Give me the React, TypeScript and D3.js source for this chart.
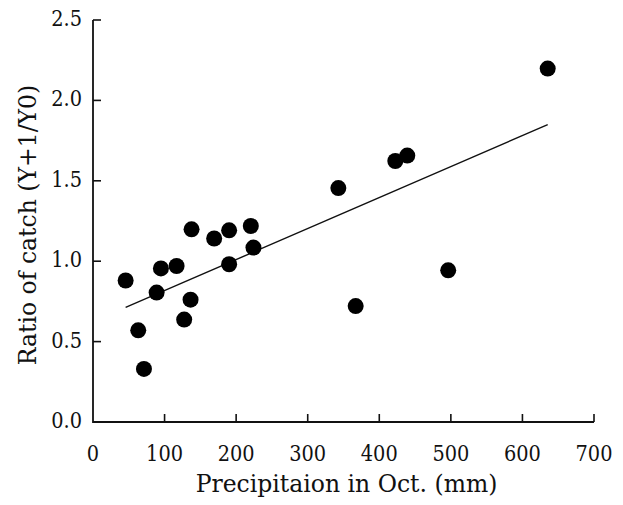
import React from "react";
import * as d3 from "d3";

const precipitation = [45.6, 63.2, 71.2, 88.9, 94.9, 116.8, 137.7, 127.4, 136.3, 169.3, 190.2, 190.2, 220.5, 224.2, 342.8, 367.0, 422.4, 439.1, 496.3, 635.3];
const catchRatio = [0.88, 0.57, 0.33, 0.805, 0.955, 0.97, 1.198, 0.637, 0.761, 1.141, 1.192, 0.981, 1.219, 1.085, 1.455, 0.721, 1.623, 1.657, 0.943, 2.198];
const xTicks = [0, 100, 200, 300, 400, 500, 600, 700];
const yTicks = [0, 0.5, 1.0, 1.5, 2.0, 2.5];
const xTitle = "Precipitaion in Oct. (mm)";
const yTitle = "Ratio of catch (Y+1/Y0)";

const W = 623;
const H = 505;
const margin = { left: 93, right: 29, top: 20, bottom: 83 };
const NUM_FONT = "'DejaVu Serif Condensed', 'DejaVu Serif', serif";
const TITLE_FONT = "'DejaVu Serif', serif";

export default function App() {
  const x = d3.scaleLinear().domain([0, 700]).range([margin.left, W - margin.right]);
  const y = d3.scaleLinear().domain([0, 2.5]).range([H - margin.bottom, margin.top]);

  const pts = precipitation.map((p, i) => ({ p, r: catchRatio[i] }));
  const mx = d3.mean(precipitation) as number;
  const my = d3.mean(catchRatio) as number;
  const sxy = d3.sum(pts, (d) => (d.p - mx) * (d.r - my));
  const sxx = d3.sum(pts, (d) => (d.p - mx) * (d.p - mx));
  const slope = sxy / sxx;
  const intercept = my - slope * mx;
  const [xmin, xmax] = d3.extent(precipitation) as [number, number];
  const fitLine = d3
    .line<number>()
    .x((v) => x(v))
    .y((v) => y(intercept + slope * v))([xmin, xmax]);

  const x0 = x(0);
  const y0 = y(0);
  const tickLen = 8;
  const axisColor = "#111";
  const numStyle = { fontFamily: NUM_FONT, fontStretch: "condensed" as const };

  return (
    <svg
      width={W}
      height={H}
      style={{ position: "absolute", left: 0, top: 0, background: "#fff" }}
    >
      <rect x={0} y={0} width={W} height={H} fill="#fff" />
      <path
        d={`M${x0},${y(2.5)}V${y0}H${x(700)}`}
        fill="none"
        stroke={axisColor}
        strokeWidth={1.8}
      />
      {yTicks.slice(1).map((t) => (
        <line key={"yt" + t} x1={x0} x2={x0 + tickLen} y1={y(t)} y2={y(t)} stroke={axisColor} strokeWidth={1.6} />
      ))}
      {xTicks.slice(1).map((t) => (
        <line key={"xt" + t} x1={x(t)} x2={x(t)} y1={y0} y2={y0 - tickLen} stroke={axisColor} strokeWidth={1.6} />
      ))}
      {yTicks.map((t) => (
        <text key={"yl" + t} x={x0 - 11} y={y(t) + 6} textAnchor="end" fontSize={21.5} fill="#111" style={numStyle}>
          {d3.format(".1f")(t)}
        </text>
      ))}
      {xTicks.map((t) => (
        <text key={"xl" + t} x={x(t)} y={y0 + 38.5} textAnchor="middle" fontSize={21.5} fill="#111" style={numStyle}>
          {t}
        </text>
      ))}
      <text x={(x0 + x(700)) / 2 + 3} y={492} textAnchor="middle" fontSize={23.5} fill="#111" style={{ fontFamily: TITLE_FONT }}>
        {xTitle}
      </text>
      <text
        transform={`translate(36, ${(y(0) + y(2.5)) / 2 + 4}) rotate(-90)`}
        textAnchor="middle"
        fontSize={23.5}
        fill="#111"
        style={{ fontFamily: TITLE_FONT }}
      >
        {yTitle}
      </text>
      <path d={fitLine || ""} fill="none" stroke="#111" strokeWidth={1.4} />
      {pts.map((d, i) => (
        <circle key={i} cx={x(d.p)} cy={y(d.r)} r={8} fill="#000" />
      ))}
    </svg>
  );
}
